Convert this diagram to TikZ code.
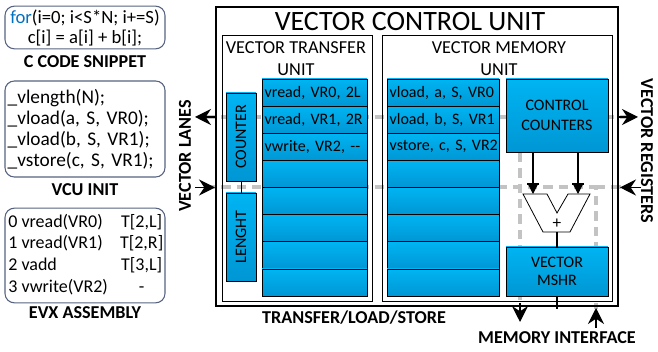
\documentclass[tikz,border=0pt]{standalone}
\usepackage{fontspec}
\setmainfont{Carlito}
\usetikzlibrary{arrows.meta}
\definecolor{regtop}{RGB}{0,180,242}
\definecolor{regbottom}{RGB}{0,150,212}
\definecolor{framegray}{RGB}{86,98,128}
\definecolor{keyblue}{RGB}{0,112,192}
\definecolor{lanegray}{RGB}{195,195,195}

\begin{document}
\begin{tikzpicture}[x=0.75pt,y=-0.75pt,
        reg-node/.style={draw,top color=regtop,bottom color=regbottom,minimum height=20.34pt,inner sep=2pt,outer sep=0pt,align=left,font=\fontsize{12}{14}\selectfont},
        blue-node/.style={draw,top color=regtop,bottom color=regbottom,inner sep=0pt,outer sep=0pt,align=center,font=\fontsize{12}{15}\selectfont},
        unit-node/.style={draw,line width=0.6pt,inner sep=0pt},
        unit-label/.style={align=center,font=\fontsize{13.7}{16.5}\selectfont},
        code-node/.style={draw=framegray,line width=0.8pt,rounded corners=7pt,minimum width=120pt,inner sep=0pt,font=\fontsize{14.5}{15.75}\selectfont},
        bold-label/.style={font=\bfseries\fontsize{13.6}{15}\selectfont},
        lane-line/.style={lanegray,line width=3pt,dash pattern=on 7pt off 4.5pt},
        io-arrow/.style={-{Stealth[length=12pt,width=12pt,inset=4pt]},line width=1pt},
        mux-arrow/.style={-{Bar[width=9pt,line width=1.5pt]Triangle[length=7pt,width=7pt]},line width=0.8pt},
    ]
    \useasboundingbox (0,0) rectangle (658,352);

    % end points of the lanes
    \coordinate (lane-out) at (195,117);
    \coordinate (lane-in) at (195,187.5);
    \coordinate (reg-out) at (638,117);
    \coordinate (reg-in) at (641,187.5);
    \coordinate (mem-down) at (520,322);
    \coordinate (mem-up) at (596,328);
    \coordinate (mem-tap) at (557,309);

    % gray lanes behind the blocks
    \draw[lane-line] (206,117) -- (626,117);
    \draw[lane-line] (206,187.5) -- (596,187.5) -- (596,309);
    \draw[lane-line] (596,187.5) -- (628,187.5);
    \draw[lane-line] (520,153) -- (520,304);

    % left panel
    \node[code-node,minimum height=32pt,align=center,font=\fontsize{14}{15}\selectfont] (snippet) at (85,27.5)
        {\textcolor{keyblue}{for}(i=0; i<S*N; i+=S)\\c[i] = a[i] + b[i];};
    \node[bold-label] (snippet-label) at (85,62) {C CODE SNIPPET};
    \node[code-node,minimum height=72pt,align=left,text width=116pt] (init) at (85,129)
        {\_vlength(N);\\\_vload(a, S, VR0);\\\_vload(b, S, VR1);\\\_vstore(c, S, VR1);};
    \node[bold-label] (init-label) at (85,190) {VCU INIT};
    \node[code-node,minimum height=71pt,font=\fontsize{13.5}{16.3}\selectfont] (evx) at (85,255.5)
        {\begin{tabular}{@{}p{85pt}@{}l@{}}
         0 vread(VR0) & \makebox[30pt]{T[2,L]}\\
         1 vread(VR1) & \makebox[30pt]{T[2,R]}\\
         2 vadd & \makebox[30pt]{T[3,L]}\\
         3 vwrite(VR2) & \makebox[30pt]{-}
         \end{tabular}};
    \node[bold-label] (evx-label) at (85,313) {EVX ASSEMBLY};

    % control unit
    \node[draw,line width=1.8pt,minimum width=301.5pt,minimum height=224.25pt] (vcu) at (417,156.5) {};
    \node[font=\fontsize{21}{24}\selectfont] (vcu-label) at (410,21.5) {VECTOR CONTROL UNIT};
    \node[unit-node,minimum width=112.5pt,minimum height=199.5pt] (vtu) at (297,168) {};
    \node[unit-label] (vtu-label) at (296,59) {VECTOR TRANSFER\\UNIT};
    \node[unit-node,minimum width=172.5pt,minimum height=199.5pt] (vmu) at (497,168) {};
    \node[unit-label] (vmu-label) at (499,59) {VECTOR MEMORY\\UNIT};

    % register tables
    \foreach \txt [count=\i from 0] in {{vread, VR0, 2L},{vread, VR1, 2R},{vwrite, VR2, {-}{-}},{},{},{},{},{}}
        \node[reg-node,minimum width=78.75pt,text width=74.75pt] (vt\i) at (314.5,{92.56+27.125*\i}) {\mbox{\txt}};
    \foreach \txt [count=\i from 0] in {{vload, a, S, VR0},{vload, b, S, VR1},{vstore, c, S, VR2},{},{},{},{},{}}
        \node[reg-node,minimum width=84pt,text width=80pt] (vm\i) at (443,{92.56+27.125*\i}) {\mbox{\txt}};

    \node[blue-node,rotate=90,minimum width=66pt,minimum height=22.5pt] (counter) at (241,137) {COUNTER};
    \node[blue-node,rotate=90,minimum width=66pt,minimum height=22.5pt] (lenght) at (241,237) {LENGHT};
    \draw[line width=0.6pt] (counter) -- (lenght);

    \node[blue-node,minimum width=76.5pt,minimum height=54.75pt] (ctrl) at (557,115.5) {CONTROL\\COUNTERS};
    \node[blue-node,minimum width=76.5pt,minimum height=36.75pt,font=\fontsize{12}{13.5}\selectfont] (mshr) at (557,271.5) {VECTOR\\MSHR};

    % adder
    \coordinate (mux-in1) at (533,194);
    \coordinate (mux-in2) at (578,194);
    \coordinate (mux-out) at (557,232);
    \draw[fill=white,line width=0.6pt] (523,194) -- (547,194) -- (557,213) -- (568,194)
        -- (590,194) -- (570,232) -- (543,232) -- cycle;
    \node[font=\fontsize{13}{14}\selectfont] (plus) at (557,224) {+};
    \draw[mux-arrow] (ctrl.south -| mux-in1) -- (mux-in1);
    \draw[mux-arrow] (ctrl.south -| mux-in2) -- (mux-in2);
    \draw[line width=0.8pt] (mux-out) -- (mshr.north);
    \draw[line width=0.8pt] (mshr.south) -- (mem-tap);

    % arrows in and out
    \draw[io-arrow] (216,117) -- (lane-out);
    \draw[io-arrow] (lane-in) -- (215,187.5);
    \draw[io-arrow] (618,117) -- (reg-out);
    \draw[io-arrow] (reg-in) -- (620,187.5);
    \draw[io-arrow] (520,303) -- (mem-down);
    \draw[io-arrow] (mem-up) -- (596,308);

    \node[bold-label,rotate=90] (lanes-label) at (185,156) {VECTOR LANES};
    \node[bold-label,rotate=-90] (regs-label) at (647,151) {VECTOR REGISTERS};
    \node[bold-label] (tls-label) at (354,318) {TRANSFER/LOAD/STORE};
    \node[bold-label] (mem-label) at (557,338) {MEMORY INTERFACE};
\end{tikzpicture}
\end{document}
